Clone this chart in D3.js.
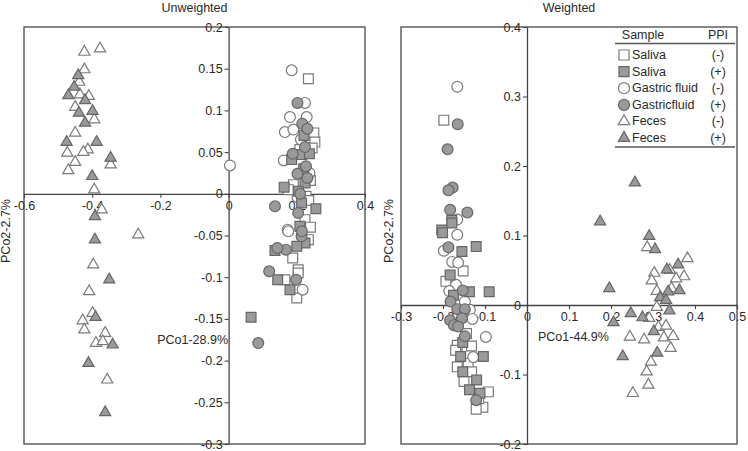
<!DOCTYPE html>
<html><head><meta charset="utf-8">
<script src="https://cdn.jsdelivr.net/npm/d3@7"></script>
<style>
body{margin:0;background:#fff;}
svg text{font-family:"Liberation Sans",Arial,sans-serif;fill:#2a2a2a;}
</style></head>
<body><svg id="chart" width="748" height="451"></svg>
<script>
// ---------- DATA ----------
const panelTitles = ["Unweighted", "Weighted"];
const xTitles = ["PCo1-28.9%", "PCo1-44.9%"];
const yTitles = ["PCo2-2.7%", "PCo2-2.7%"];
const unwXTicks = [-0.6, -0.4, -0.2, 0, 0.2, 0.4];
const unwYTicks = [0.2, 0.15, 0.1, 0.05, 0, -0.05, -0.1, -0.15, -0.2, -0.25, -0.3];
const wXTicks = [-0.3, -0.2, -0.1, 0, 0.1, 0.2, 0.3, 0.4, 0.5];
const wYTicks = [0.4, 0.3, 0.2, 0.1, 0, -0.1, -0.2];
const legendSamples = ["Saliva", "Saliva", "Gastric fluid", "Gastricfluid", "Feces", "Feces"];
const legendPPI = ["(-)", "(+)", "(-)", "(+)", "(-)", "(+)"];

// Unweighted panel
const unwSalivaNeg = [[0.234,0.138],[0.250,0.073],[0.253,0.062],[0.209,0.053],[0.240,0.016],[0.190,0.011],[0.227,-0.003],[0.235,-0.008],[0.224,-0.031],[0.240,-0.040],[0.234,-0.055],[0.188,-0.077],[0.204,-0.091],[0.204,-0.095],[0.165,-0.103],[0.200,-0.125],[0.175,0.005],[0.245,0.055]];
const unwSalivaPos = [[0.221,0.070],[0.214,0.047],[0.237,0.048],[0.185,0.041],[0.224,0.013],[0.163,0.008],[0.214,-0.011],[0.256,-0.018],[0.209,-0.039],[0.224,-0.059],[0.200,-0.063],[0.136,-0.068],[0.144,-0.103],[0.180,-0.115],[0.066,-0.148],[0.205,0.003],[0.220,0.030]];
const unwGastricNeg = [[0.004,0.034],[0.185,0.148],[0.224,0.109],[0.180,0.092],[0.229,0.092],[0.165,0.074],[0.190,0.077],[0.162,0.040],[0.237,0.025],[0.202,-0.004],[0.173,-0.043],[0.175,-0.045],[0.217,-0.115],[0.212,0.065]];
const unwGastricPos = [[0.202,0.109],[0.216,0.084],[0.231,0.078],[0.224,0.056],[0.188,0.048],[0.227,0.033],[0.202,0.024],[0.231,0.019],[0.136,-0.015],[0.204,-0.023],[0.214,-0.051],[0.168,-0.067],[0.143,-0.065],[0.119,-0.093],[0.198,-0.103],[0.087,-0.179],[0.210,0.000],[0.215,-0.045]];
const unwFecesNeg = [[-0.423,0.170],[-0.377,0.174],[-0.423,0.149],[-0.438,0.134],[-0.436,0.119],[-0.410,0.117],[-0.450,0.104],[-0.394,0.089],[-0.450,0.073],[-0.413,0.053],[-0.426,0.050],[-0.473,0.049],[-0.450,0.038],[-0.470,0.028],[-0.346,0.035],[-0.394,0.005],[-0.372,-0.019],[-0.265,-0.049],[-0.397,-0.085],[-0.409,-0.117],[-0.399,-0.143],[-0.428,-0.152],[-0.423,-0.163],[-0.362,-0.167],[-0.389,-0.179],[-0.369,-0.177],[-0.356,-0.223]];
const unwFecesPos = [[-0.441,0.142],[-0.453,0.128],[-0.470,0.118],[-0.421,0.112],[-0.399,0.099],[-0.439,0.097],[-0.421,0.085],[-0.475,0.062],[-0.387,0.062],[-0.346,0.043],[-0.400,0.021],[-0.392,-0.027],[-0.392,-0.055],[-0.350,-0.103],[-0.390,-0.148],[-0.340,-0.181],[-0.411,-0.203],[-0.362,-0.262]];

// Weighted panel
const wSalivaNeg = [[-0.198,0.266],[-0.152,0.049],[-0.193,0.034],[-0.144,-0.041],[-0.166,-0.058],[-0.132,-0.059],[-0.140,-0.084],[-0.166,-0.089],[-0.132,-0.096],[-0.092,-0.125],[-0.105,-0.147],[-0.121,-0.150],[-0.170,-0.065],[-0.150,-0.110],[-0.115,-0.135]];
const wSalivaPos = [[-0.179,0.122],[-0.203,0.108],[-0.179,0.118],[-0.201,0.104],[-0.121,0.084],[-0.155,0.077],[-0.183,0.043],[-0.090,0.019],[-0.137,0.019],[-0.175,0.014],[-0.153,-0.054],[-0.158,-0.074],[-0.104,-0.074],[-0.153,-0.096],[-0.120,-0.108],[-0.137,-0.122],[-0.112,-0.127]];
const wGastricNeg = [[-0.166,0.314],[-0.166,0.123],[-0.166,0.101],[-0.198,0.078],[-0.178,0.062],[-0.164,0.061],[-0.169,0.029],[-0.148,0.005],[-0.136,-0.007],[-0.098,-0.046],[-0.128,-0.075],[-0.185,0.020],[-0.130,-0.020]];
const wGastricPos = [[-0.165,0.260],[-0.189,0.224],[-0.177,0.169],[-0.187,0.165],[-0.183,0.137],[-0.142,0.133],[-0.187,0.083],[-0.153,0.021],[-0.182,0.005],[-0.166,-0.006],[-0.148,-0.006],[-0.155,-0.019],[-0.183,-0.022],[-0.174,-0.029],[-0.164,-0.031],[-0.148,-0.045],[-0.121,-0.137]];
const wFecesNeg = [[0.286,0.083],[0.382,0.067],[0.340,0.050],[0.303,0.046],[0.374,0.041],[0.355,0.038],[0.297,0.035],[0.344,0.024],[0.309,0.020],[0.309,-0.003],[0.291,-0.019],[0.313,-0.032],[0.331,-0.030],[0.245,-0.046],[0.279,-0.050],[0.326,-0.047],[0.348,-0.045],[0.342,-0.062],[0.295,-0.082],[0.285,-0.096],[0.289,-0.115],[0.252,-0.127]];
const wFecesPos = [[0.257,0.176],[0.174,0.120],[0.291,0.099],[0.305,0.080],[0.360,0.058],[0.333,0.051],[0.196,0.024],[0.363,0.021],[0.336,0.019],[0.317,0.011],[0.331,0.007],[0.339,-0.008],[0.247,-0.012],[0.275,-0.018],[0.206,-0.025],[0.302,-0.038],[0.310,-0.069],[0.228,-0.074]];

// ---------- STYLE / LAYOUT ----------
const OPEN = {fill:"#ffffff", stroke:"#7a7a7a"};
const FILLED = {fill:"#9a9a9a", stroke:"#666666"};
const shapes = {square:{type:d3.symbolSquare,size:96}, circle:{type:d3.symbolCircle,size:92}, triangle:{type:d3.symbolTriangle,size:54}};
const seriesStyle = [
  {shape:"square", st:OPEN}, {shape:"square", st:FILLED},
  {shape:"circle", st:OPEN}, {shape:"circle", st:FILLED},
  {shape:"triangle", st:OPEN}, {shape:"triangle", st:FILLED}
];

const svg = d3.select("#chart");
const fmt = d => d === 0 ? "0" : String(+d.toFixed(2));

const panels = [
  {x0:24, x1:365, y0:27, y1:444, xd:[-0.6,0.4], yd:[-0.3,0.2], xt:unwXTicks, yt:unwYTicks,
   series:[unwSalivaNeg,unwSalivaPos,unwGastricNeg,unwGastricPos,unwFecesNeg,unwFecesPos],
   order:[4,5,0,2,1,3], ytx:6, xtitle:{x:228, y:344, anchor:"end"}},
  {x0:401, x1:737, y0:27, y1:444, xd:[-0.3,0.5], yd:[-0.2,0.4], xt:wXTicks, yt:wYTicks,
   series:[wSalivaNeg,wSalivaPos,wGastricNeg,wGastricPos,wFecesNeg,wFecesPos],
   order:[4,5,0,2,1,3], ytx:389, xtitle:{x:538, y:341, anchor:"start"}}
];

panels.forEach((p, i) => {
  const x = d3.scaleLinear().domain(p.xd).range([p.x0, p.x1]);
  const y = d3.scaleLinear().domain(p.yd).range([p.y1, p.y0]);
  const g = svg.append("g");

  g.append("rect").attr("x", p.x0).attr("y", p.y0).attr("width", p.x1 - p.x0).attr("height", p.y1 - p.y0)
    .attr("fill", "none").attr("stroke", "#555").attr("stroke-width", 1.4);

  const ax = g.append("g").attr("transform", `translate(0,${y(0)})`)
    .call(d3.axisBottom(x).tickValues(p.xt).tickFormat(fmt).tickSize(4).tickPadding(3).tickSizeOuter(0));
  const ay = g.append("g").attr("transform", `translate(${x(0)},0)`)
    .call(d3.axisLeft(y).tickValues(p.yt).tickFormat(fmt).tickSize(4).tickPadding(2).tickSizeOuter(0));
  [ax, ay].forEach(a => {
    a.select(".domain").attr("stroke", "#444").attr("stroke-width", 1.3);
    a.selectAll(".tick line").attr("stroke", "#444").attr("stroke-width", 1.1);
    a.selectAll(".tick text").style("font-family", '"Liberation Sans",Arial,sans-serif')
      .style("font-size", "12.5px").attr("fill", "#2a2a2a");
  });

  // markers
  p.order.forEach(si => {
    const s = seriesStyle[si];
    const sym = d3.symbol().type(shapes[s.shape].type).size(shapes[s.shape].size);
    g.append("g").selectAll("path").data(p.series[si]).join("path")
      .attr("d", sym)
      .attr("transform", d => `translate(${x(d[0])},${y(d[1])})`)
      .attr("fill", s.st.fill).attr("stroke", s.st.stroke).attr("stroke-width", 1.2);
  });

  // titles
  g.append("text").attr("x", (p.x0 + p.x1) / 2).attr("y", 12).attr("text-anchor", "middle")
    .style("font-size", "12.5px").text(panelTitles[i]);
  g.append("text").attr("x", p.xtitle.x).attr("y", p.xtitle.y).attr("text-anchor", p.xtitle.anchor)
    .style("font-size", "12.5px").text(xTitles[i]);
  g.append("text").attr("transform", `translate(${p.ytx},231) rotate(-90)`).attr("text-anchor", "middle")
    .attr("dominant-baseline", "central").style("font-size", "12.5px").text(yTitles[i]);
});

// ---------- LEGEND ----------
const lg = svg.append("g");
const rowY = d3.scaleLinear().domain([0, 5]).range([55, 138]);
lg.append("text").attr("x", 643).attr("y", 39).attr("text-anchor", "middle").style("font-size", "12.5px").text("Sample");
lg.append("text").attr("x", 718).attr("y", 39).attr("text-anchor", "middle").style("font-size", "12.5px").text("PPI");
lg.append("line").attr("x1", 615).attr("x2", 735).attr("y1", 43.5).attr("y2", 43.5).attr("stroke", "#555").attr("stroke-width", 1.5);
lg.append("line").attr("x1", 615).attr("x2", 735).attr("y1", 147).attr("y2", 147).attr("stroke", "#555").attr("stroke-width", 1.5);
legendSamples.forEach((name, k) => {
  const s = seriesStyle[k];
  const sym = d3.symbol().type(shapes[s.shape].type).size(shapes[s.shape].size * 1.05);
  lg.append("path").attr("d", sym).attr("transform", `translate(624,${rowY(k)})`)
    .attr("fill", s.st.fill).attr("stroke", s.st.stroke).attr("stroke-width", 1.2);
  lg.append("text").attr("x", 632).attr("y", rowY(k)).attr("dominant-baseline", "central")
    .style("font-size", "12.5px").text(name);
  lg.append("text").attr("x", 718).attr("y", rowY(k)).attr("dominant-baseline", "central")
    .attr("text-anchor", "middle").style("font-size", "12.5px").text(legendPPI[k]);
});
</script></body></html>
